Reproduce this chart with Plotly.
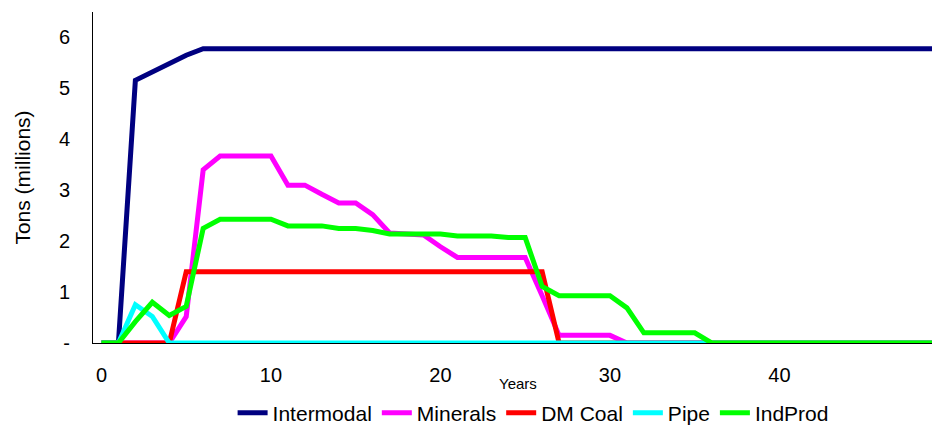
import plotly.graph_objects as go

years = list(range(50))
tick_years = [0, 10, 20, 30, 40]
tick_labels = ["0", "10", "20", "30", "40"]
y_ticks = [0, 1, 2, 3, 4, 5, 6]
y_labels = ["-", "1", "2", "3", "4", "5", "6"]

intermodal = [0, 0, 5.16, 5.33, 5.50, 5.65, 5.78, 5.78, 5.78, 5.78,
              5.78, 5.78, 5.78, 5.78, 5.78, 5.78, 5.78, 5.78, 5.78, 5.78,
              5.78, 5.78, 5.78, 5.78, 5.78, 5.78, 5.78, 5.78, 5.78, 5.78,
              5.78, 5.78, 5.78, 5.78, 5.78, 5.78, 5.78, 5.78, 5.78, 5.78,
              5.78, 5.78, 5.78, 5.78, 5.78, 5.78, 5.78, 5.78, 5.78, 5.78]
minerals = [0, 0, 0, 0, 0, 0.52, 3.40, 3.67, 3.67, 3.67,
            3.67, 3.10, 3.10, 2.92, 2.75, 2.75, 2.52, 2.16, 2.14, 2.12,
            1.89, 1.68, 1.68, 1.68, 1.68, 1.68, 0.93, 0.15, 0.15, 0.15,
            0.15, 0, 0, 0, 0, 0, 0, 0, 0, 0,
            0, 0, 0, 0, 0, 0, 0, 0, 0, 0]
dm_coal = [0, 0, 0, 0, 0, 1.40, 1.40, 1.40, 1.40, 1.40,
           1.40, 1.40, 1.40, 1.40, 1.40, 1.40, 1.40, 1.40, 1.40, 1.40,
           1.40, 1.40, 1.40, 1.40, 1.40, 1.40, 1.40, 0, 0, 0,
           0, 0, 0, 0, 0, 0, 0, 0, 0, 0,
           0, 0, 0, 0, 0, 0, 0, 0, 0, 0]
pipe = [0, 0, 0.75, 0.52, 0, 0, 0, 0, 0, 0,
        0, 0, 0, 0, 0, 0, 0, 0, 0, 0,
        0, 0, 0, 0, 0, 0, 0, 0, 0, 0,
        0, 0, 0, 0, 0, 0, 0, 0, 0, 0,
        0, 0, 0, 0, 0, 0, 0, 0, 0, 0]
indprod = [0, 0, 0.42, 0.80, 0.54, 0.72, 2.25, 2.43, 2.43, 2.43,
           2.43, 2.30, 2.30, 2.30, 2.25, 2.25, 2.21, 2.14, 2.14, 2.14,
           2.14, 2.10, 2.10, 2.10, 2.07, 2.07, 1.11, 0.93, 0.93, 0.93,
           0.93, 0.69, 0.20, 0.20, 0.20, 0.20, 0, 0, 0, 0,
           0, 0, 0, 0, 0, 0, 0, 0, 0, 0]

series = [
    ("Intermodal", intermodal, "#000080"),
    ("Minerals", minerals, "#FF00FF"),
    ("DM Coal", dm_coal, "#FF0000"),
    ("Pipe", pipe, "#00FFFF"),
    ("IndProd", indprod, "#00FF00"),
]

FONT = "Liberation Sans, Arial, sans-serif"

fig = go.Figure()
for name, vals, color in series:
    fig.add_trace(go.Scatter(
        x=years, y=vals, name=name, mode="lines",
        line=dict(color=color, width=5),
        cliponaxis=False,
    ))

boundary_ticks = [b - 0.5 for b in range(0, 50, 5)]

fig.update_layout(
    width=932, height=425,
    margin=dict(l=93, r=0, t=12, b=82, autoexpand=False),
    paper_bgcolor="white", plot_bgcolor="white",
    font=dict(family=FONT, color="black"),
    showlegend=True,
    legend=dict(
        orientation="h", xref="container", yref="container",
        x=0.572, xanchor="center", y=0.028, yanchor="middle",
        font=dict(size=21, color="black"),
        itemwidth=30, tracegroupgap=0,
    ),
    xaxis=dict(
        range=[-0.5, 49.0], automargin=False,
        tickvals=tick_years, ticktext=tick_labels,
        ticks="", showgrid=False, zeroline=False,
        showline=True, linecolor="black", linewidth=1,
        tickfont=dict(size=20, color="black"),
        ticklabelstandoff=14,
    ),
    xaxis2=dict(
        overlaying="x", matches="x", anchor="y", side="bottom",
        range=[-0.5, 49.0], automargin=False,
        tickvals=boundary_ticks, ticks="outside", ticklen=5,
        tickcolor="black", tickwidth=1,
        showticklabels=False, showgrid=False, zeroline=False, showline=False,
    ),
    yaxis=dict(
        range=[0, 6.5], automargin=False,
        tickvals=y_ticks, ticktext=y_labels,
        ticks="", showgrid=False, zeroline=False,
        showline=True, linecolor="black", linewidth=1,
        tickfont=dict(size=20, color="black"),
        ticklabelstandoff=18,
        title=dict(text="Tons (millions)", font=dict(size=21, color="black"), standoff=22),
    ),
    annotations=[dict(
        text="Years", xref="paper", yref="paper", x=0.507, y=-0.121,
        xanchor="center", yanchor="middle", showarrow=False,
        font=dict(size=15, color="black"),
    )],
)

fig.write_html("out.html", config={"displayModeBar": False},
               post_script="document.body.style.margin='0px';")
